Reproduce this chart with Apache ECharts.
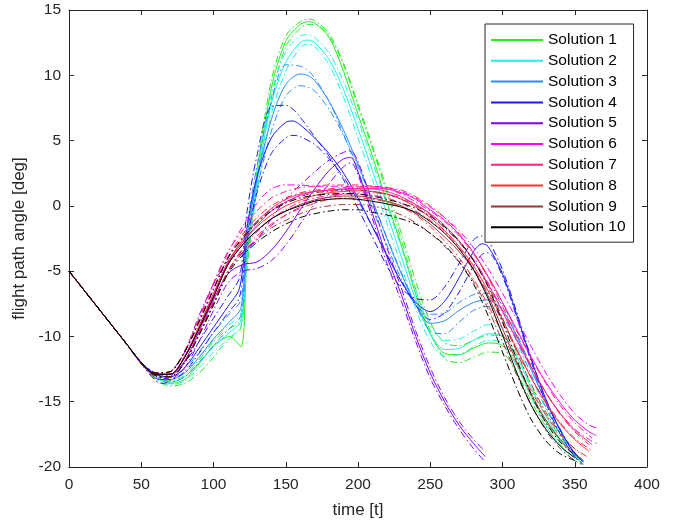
<!DOCTYPE html>
<html><head><meta charset="utf-8">
<script src="https://cdn.jsdelivr.net/npm/echarts@6/dist/echarts.min.js"></script>
<style>html,body{margin:0;padding:0;background:#fff}#c{width:678px;height:527px}</style>
</head><body><div id="c"></div>
<script>
// ---- data ----
const xTicks = [0, 50, 100, 150, 200, 250, 300, 350, 400];
const yTicks = [-20, -15, -10, -5, 0, 5, 10, 15];
const names = ['Solution 1','Solution 2','Solution 3','Solution 4','Solution 5','Solution 6','Solution 7','Solution 8','Solution 9','Solution 10'];
const colors = ['#22ee22','#22eeee','#2a8cff','#1a1aff','#8000ff','#ff00ff','#ff2080','#ff3030','#993535','#000000'];

const t1 = [0,10,20,30,40,50,60,70,80,90,100,105,111,119,123,130,140,150,160,166,170,180,190,200,210,220,230,240,250,260,270,280,290,300,310,320,330,340,350,356];
const s1 = [-5,-6.4,-7.8,-9.2,-10.6,-12.0,-13.1,-13.6,-13.3,-12.1,-10.7,-10.3,-10.0,-10.8,-4.3,2.0,9.0,12.6,13.9,14.1,14.0,12.9,10.3,7.0,3.8,0.3,-3.0,-6.8,-9.8,-11.3,-11.4,-10.9,-10.5,-10.7,-12.2,-14.6,-16.5,-18.0,-19.1,-19.6];
const u1 = [-5,-6.4,-7.8,-9.2,-10.6,-12.0,-13.0,-13.4,-13.0,-11.8,-10.4,-9.9,-9.4,-8.8,-4.0,2.6,9.6,13.0,14.1,14.3,14.2,13.2,10.9,7.8,4.6,1.3,-2.1,-5.8,-8.9,-10.5,-10.7,-10.3,-9.9,-10.0,-11.4,-13.8,-16.0,-17.7,-19.0,-19.5];
const l1 = [-5,-6.4,-7.8,-9.2,-10.6,-12.1,-13.3,-13.8,-13.6,-12.8,-11.6,-10.9,-10.2,-9.3,-5.0,1.5,8.2,12.2,13.6,13.9,13.9,13.0,10.8,7.6,4.4,1.0,-2.6,-6.4,-9.6,-11.7,-12.0,-11.6,-11.2,-11.3,-12.8,-15.0,-16.9,-18.3,-19.3,-19.8];

const t2 = [0,10,20,30,40,50,60,70,80,90,100,110,119,123,130,140,150,160,165,170,180,190,200,210,220,230,240,250,260,270,280,290,300,310,320,330,340,350,355];
const s2 = [-5,-6.4,-7.8,-9.2,-10.6,-12.0,-13.0,-13.5,-13.1,-12.0,-10.8,-9.8,-8.8,-3.5,1.8,7.8,11.0,12.5,12.7,12.5,11.2,8.9,5.9,2.7,-0.6,-3.9,-7.2,-9.8,-11.0,-10.9,-10.3,-9.8,-10.0,-11.6,-14.0,-16.1,-17.9,-19.2,-19.6];
const u2 = [-5,-6.4,-7.8,-9.2,-10.6,-12.0,-12.9,-13.3,-12.8,-11.6,-10.3,-9.2,-8.2,-3.0,2.6,8.6,11.8,13.0,13.1,12.9,11.7,9.5,6.6,3.4,0.1,-3.2,-6.5,-9.1,-10.3,-10.2,-9.6,-9.1,-9.3,-10.8,-13.2,-15.5,-17.5,-18.9,-19.4];
const l2 = [-5,-6.4,-7.8,-9.2,-10.6,-12.1,-13.2,-13.7,-13.4,-12.4,-11.2,-10.2,-9.2,-4.2,1.0,7.0,10.3,12.1,12.4,12.2,10.8,8.3,5.2,2.0,-1.3,-4.6,-7.9,-10.4,-11.5,-11.4,-10.8,-10.3,-10.5,-12.3,-14.7,-16.8,-18.4,-19.5,-19.8];

const t3 = [0,10,20,30,40,50,60,70,80,90,100,110,119,123,130,140,150,160,165,170,180,190,200,210,220,230,240,250,260,270,280,290,300,310,320,330,340,350,356];
const s3 = [-5,-6.4,-7.8,-9.2,-10.6,-12.0,-12.9,-13.3,-12.8,-11.6,-10.2,-9.0,-7.8,-2.5,2.0,6.6,9.3,10.1,10.0,9.6,8.0,5.8,3.2,0.4,-2.5,-5.2,-7.6,-9.0,-8.8,-8.0,-7.4,-7.2,-8.0,-10.0,-12.6,-15.0,-17.2,-19.0,-19.6];
const u3 = [-5,-6.4,-7.8,-9.2,-10.6,-12.0,-12.8,-13.1,-12.5,-11.2,-9.7,-8.4,-7.2,-1.8,3.0,8.0,10.8,10.7,10.4,9.8,8.0,5.5,2.7,-0.2,-3.0,-5.6,-7.6,-8.3,-8.2,-7.4,-6.8,-6.7,-7.6,-9.8,-12.4,-14.9,-17.1,-18.9,-19.5];
const l3 = [-5,-6.4,-7.8,-9.2,-10.6,-12.1,-13.0,-13.5,-13.1,-12.0,-10.7,-9.5,-8.4,-3.2,1.2,5.7,8.4,9.2,9.1,8.8,7.4,5.4,3.0,0.4,-2.4,-5.1,-7.6,-9.6,-9.8,-8.9,-8.0,-7.7,-8.5,-10.4,-13.0,-15.4,-17.5,-19.2,-19.8];

const t4 = [0,10,20,30,40,50,60,70,80,90,100,110,118,123,130,140,150,155,160,170,180,190,200,210,220,230,240,250,260,270,280,286,290,300,310,320,330,340,350,356];
const s4 = [-5,-6.4,-7.8,-9.2,-10.6,-12.0,-12.9,-13.1,-12.4,-10.9,-9.3,-7.7,-6.3,-1.8,2.2,5.2,6.4,6.5,6.2,5.2,4.0,2.5,0.6,-1.6,-3.8,-5.8,-7.4,-8.1,-7.3,-5.5,-3.5,-2.9,-3.1,-5.2,-8.4,-11.8,-14.8,-17.2,-19.0,-19.6];
const u4 = [-5,-6.4,-7.8,-9.2,-10.6,-12.0,-12.8,-12.9,-12.0,-10.4,-8.6,-6.9,-5.5,-0.6,3.8,7.6,7.7,7.4,6.8,5.3,3.8,2.0,-0.2,-2.4,-4.6,-6.3,-7.1,-7.2,-6.2,-4.4,-2.6,-2.3,-2.6,-4.9,-8.2,-11.7,-14.8,-17.2,-18.9,-19.5];
const l4 = [-5,-6.4,-7.8,-9.2,-10.6,-12.1,-13.0,-13.3,-12.7,-11.3,-9.7,-8.2,-7.0,-2.8,1.0,4.0,5.2,5.4,5.3,4.7,3.6,2.2,0.4,-1.6,-3.7,-5.8,-7.6,-8.7,-8.2,-6.6,-4.6,-3.7,-3.6,-5.4,-8.6,-12.0,-15.1,-17.5,-19.2,-19.8];

const t5 = [0,10,20,30,40,50,60,65,70,80,90,100,110,120,130,140,150,160,170,180,190,195,200,210,220,230,240,250,260,270,280,288];
const s5 = [-5,-6.4,-7.8,-9.2,-10.6,-12.1,-13.2,-13.3,-13.1,-11.9,-9.6,-7.2,-5.2,-4.5,-4.3,-3.4,-2.0,-0.3,1.3,2.7,3.6,3.7,2.6,-0.6,-3.9,-6.8,-10.0,-12.8,-15.0,-16.8,-18.2,-19.2];
const u5 = [-5,-6.4,-7.8,-9.2,-10.6,-12.0,-13.0,-13.1,-12.8,-11.2,-8.4,-6.0,-4.2,-3.6,-2.6,-1.0,0.5,1.6,2.6,3.5,4.1,4.2,3.4,0.2,-3.2,-6.3,-9.6,-12.4,-14.7,-16.5,-17.9,-18.8];
const l5 = [-5,-6.4,-7.8,-9.2,-10.6,-12.1,-13.4,-13.6,-13.4,-12.4,-10.4,-8.0,-5.9,-5.0,-4.8,-4.2,-3.0,-1.4,0.2,1.7,3.0,3.3,2.4,-1.0,-4.4,-7.3,-10.4,-13.2,-15.3,-17.1,-18.6,-19.6];

const t6 = [0,10,20,30,40,50,60,70,80,90,100,110,120,130,140,150,160,170,180,190,200,210,220,230,240,250,260,270,280,290,300,310,320,330,340,350,360,365];
const s6 = [-5,-6.4,-7.8,-9.2,-10.6,-12.0,-12.9,-12.9,-11.6,-9.3,-6.8,-4.3,-2.8,-1.5,-0.4,0.3,0.8,1.1,1.2,1.3,1.35,1.35,1.3,1.0,0.5,-0.3,-1.1,-2.2,-3.6,-5.4,-7.4,-9.5,-11.6,-13.5,-15.1,-16.4,-17.3,-17.6];
const u6 = [-5,-6.4,-7.8,-9.2,-10.6,-12.0,-12.8,-12.7,-11.2,-8.7,-6.0,-3.6,-1.6,0.2,1.3,1.6,1.6,1.5,1.5,1.5,1.5,1.5,1.4,1.1,0.6,-0.1,-0.9,-1.9,-3.2,-4.8,-6.7,-8.7,-10.8,-12.8,-14.5,-15.9,-16.8,-17.0];
const l6 = [-5,-6.4,-7.8,-9.2,-10.6,-12.0,-13.0,-13.1,-12.0,-9.8,-7.4,-5.0,-3.6,-2.5,-1.5,-0.7,-0.1,0.4,0.7,0.9,1.0,1.0,0.9,0.6,0.1,-0.7,-1.6,-2.7,-4.1,-5.9,-8.0,-10.2,-12.4,-14.3,-15.9,-17.1,-17.9,-18.2];

const t7 = [0,10,20,30,40,50,60,70,80,90,100,110,120,130,140,150,160,170,180,190,200,210,220,230,240,250,260,270,280,290,300,310,320,330,340,350,360,362];
const s7 = [-5,-6.4,-7.8,-9.2,-10.6,-12.0,-12.9,-12.9,-11.5,-9.2,-6.7,-4.3,-2.6,-1.2,-0.2,0.5,0.9,1.1,1.2,1.25,1.3,1.3,1.1,0.7,0.1,-0.6,-1.5,-2.7,-4.2,-6.0,-8.1,-10.3,-12.4,-14.3,-15.9,-17.2,-18.1,-18.3];
const u7 = [-5,-6.4,-7.8,-9.2,-10.6,-12.0,-12.8,-12.7,-11.1,-8.6,-5.9,-3.5,-1.9,-0.4,0.6,1.1,1.4,1.5,1.6,1.6,1.6,1.5,1.3,0.9,0.3,-0.4,-1.2,-2.3,-3.7,-5.4,-7.4,-9.6,-11.7,-13.6,-15.3,-16.6,-17.6,-17.8];
const l7 = [-5,-6.4,-7.8,-9.2,-10.6,-12.0,-13.0,-13.1,-11.9,-9.7,-7.3,-5.0,-3.3,-2.0,-1.0,-0.3,0.3,0.6,0.8,0.9,0.9,0.8,0.6,0.2,-0.4,-1.1,-2.0,-3.2,-4.8,-6.7,-8.9,-11.1,-13.2,-15.0,-16.6,-17.8,-18.6,-18.8];

const t8 = [0,10,20,30,40,50,60,70,80,90,100,110,120,130,140,150,160,170,180,190,200,210,220,230,240,250,260,270,280,290,300,310,320,330,340,350,360];
const s8 = [-5,-6.4,-7.8,-9.2,-10.6,-12.0,-12.9,-12.9,-11.6,-9.3,-6.9,-4.4,-2.8,-1.6,-0.7,0.0,0.45,0.8,1.0,1.1,1.15,1.1,0.9,0.5,-0.1,-0.9,-1.9,-3.1,-4.6,-6.5,-8.7,-11.0,-13.2,-15.1,-16.7,-17.9,-18.8];
const u8 = [-5,-6.4,-7.8,-9.2,-10.6,-12.0,-12.8,-12.7,-11.2,-8.8,-6.3,-3.9,-2.2,-0.9,0.0,0.6,1.0,1.2,1.3,1.4,1.45,1.45,1.4,1.2,0.7,0.0,-0.9,-2.1,-3.6,-5.5,-7.7,-10.0,-12.3,-14.3,-16.0,-17.3,-18.3];
const l8 = [-5,-6.4,-7.8,-9.2,-10.6,-12.0,-13.0,-13.1,-12.0,-9.8,-7.5,-5.0,-3.4,-2.3,-1.4,-0.7,-0.2,0.2,0.5,0.6,0.6,0.5,0.3,-0.1,-0.7,-1.6,-2.7,-4.0,-5.6,-7.6,-9.8,-12.1,-14.2,-16.0,-17.5,-18.6,-19.3];

const t9 = [0,10,20,30,40,50,60,70,80,90,100,110,120,130,140,150,160,170,180,190,200,210,220,230,240,250,260,270,280,290,300,310,320,330,340,350,355];
const s9 = [-5,-6.4,-7.8,-9.2,-10.6,-12.0,-12.9,-12.9,-11.6,-9.4,-7.0,-4.5,-3.0,-1.9,-1.0,-0.4,0.1,0.45,0.65,0.75,0.75,0.6,0.35,0.0,-0.6,-1.4,-2.4,-3.5,-4.9,-6.9,-9.4,-12.0,-14.4,-16.4,-17.9,-19.0,-19.4];
const u9 = [-5,-6.4,-7.8,-9.2,-10.6,-12.0,-12.8,-12.7,-11.2,-8.9,-6.4,-4.0,-2.4,-1.2,-0.3,0.3,0.7,1.0,1.1,1.2,1.2,1.1,0.9,0.5,0.0,-0.7,-1.7,-2.8,-4.2,-6.1,-8.6,-11.2,-13.7,-15.8,-17.4,-18.6,-19.1];
const l9 = [-5,-6.4,-7.8,-9.2,-10.6,-12.0,-13.0,-13.1,-12.0,-9.9,-7.6,-5.1,-3.6,-2.6,-1.7,-1.1,-0.6,-0.2,0.0,0.1,0.1,0.0,-0.3,-0.7,-1.3,-2.1,-3.1,-4.3,-5.8,-7.9,-10.4,-13.0,-15.3,-17.2,-18.6,-19.5,-19.8];

const t10 = [0,10,20,30,40,50,60,70,80,90,100,110,120,130,140,150,160,170,180,190,200,210,220,230,240,250,260,270,280,290,300,310,320,330,340,350];
const s10 = [-5,-6.4,-7.8,-9.2,-10.6,-12.0,-12.9,-12.9,-11.6,-9.4,-7.0,-4.5,-3.0,-1.9,-1.0,-0.4,0.0,0.35,0.5,0.55,0.5,0.35,0.15,-0.1,-0.5,-1.2,-2.1,-3.3,-4.9,-7.1,-9.9,-12.8,-15.3,-17.1,-18.4,-19.3];
const u10 = [-5,-6.4,-7.8,-9.2,-10.6,-12.0,-12.8,-12.7,-11.2,-8.9,-6.4,-4.0,-2.5,-1.3,-0.4,0.2,0.6,0.8,0.9,0.95,0.9,0.75,0.5,0.2,-0.2,-0.8,-1.6,-2.7,-4.2,-6.2,-8.9,-11.8,-14.5,-16.6,-18.1,-19.1];
const l10 = [-5,-6.4,-7.8,-9.2,-10.6,-12.0,-13.0,-13.1,-12.0,-9.9,-7.6,-5.2,-3.8,-2.8,-2.0,-1.4,-0.9,-0.6,-0.4,-0.3,-0.3,-0.5,-0.7,-1.0,-1.4,-2.1,-3.0,-4.3,-6.0,-8.4,-11.2,-14.0,-16.4,-18.0,-19.0,-19.5];

const sols = [
  [t1,s1,u1,l1],[t2,s2,u2,l2],[t3,s3,u3,l3],[t4,s4,u4,l4],[t5,s5,u5,l5],
  [t6,s6,u6,l6],[t7,s7,u7,l7],[t8,s8,u8,l8],[t9,s9,u9,l9],[t10,s10,u10,l10]
];

// ---- build ----
const FONT = 'Liberation Sans, Arial, Helvetica, sans-serif';
const AX = '#262626';
const series = [];
function pairs(t, v, tag) {
  if (t.length !== v.length) throw new Error('length mismatch ' + tag + ': ' + t.length + ' vs ' + v.length);
  return t.map((x, i) => [x, v[i]]);
}
const DASHDOT = [7, 3, 1.5, 3];
sols.forEach((s, i) => {
  const [t, sol, up, lo] = s;
  const base = {
    type: 'line', showSymbol: false, symbol: 'none', smooth: 0.3,
    silent: true, animation: false, emphasis: { disabled: true }, z: 2 + i
  };
  series.push(Object.assign({}, base, { name: names[i] + ' (upper)', data: pairs(t, up, names[i] + ' u'),
    lineStyle: { color: colors[i], width: 1, type: DASHDOT }, itemStyle: { color: colors[i] } }));
  series.push(Object.assign({}, base, { name: names[i] + ' (lower)', data: pairs(t, lo, names[i] + ' l'),
    lineStyle: { color: colors[i], width: 1, type: DASHDOT }, itemStyle: { color: colors[i] } }));
  series.push(Object.assign({}, base, { name: names[i], data: pairs(t, sol, names[i] + ' s'),
    lineStyle: { color: colors[i], width: 1, type: 'solid' }, itemStyle: { color: colors[i] } }));
});

const axisCommonX = {
  type: 'value', min: xTicks[0], max: xTicks[xTicks.length - 1], interval: xTicks[1] - xTicks[0],
  splitLine: { show: false },
  axisLine: { show: true, onZero: false, lineStyle: { color: AX, width: 1 } },
  axisTick: { show: true, inside: true, length: 5, lineStyle: { color: AX } }
};
const axisCommonY = {
  type: 'value', min: yTicks[0], max: yTicks[yTicks.length - 1], interval: yTicks[1] - yTicks[0],
  splitLine: { show: false },
  axisLine: { show: true, onZero: false, lineStyle: { color: AX, width: 1 } },
  axisTick: { show: true, inside: true, length: 5, lineStyle: { color: AX } }
};

const option = {
  animation: false,
  backgroundColor: '#ffffff',
  grid: { left: 69, right: 31, top: 10, bottom: 60, containLabel: false },
  xAxis: [
    Object.assign({}, axisCommonX, {
      position: 'bottom', name: 'time [t]', nameLocation: 'middle', nameGap: 35,
      nameTextStyle: { fontFamily: FONT, fontSize: 17, color: AX },
      axisLabel: { fontFamily: FONT, fontSize: 15.5, color: AX, margin: 10 }
    }),
    Object.assign({}, axisCommonX, { position: 'top', axisLabel: { show: false } })
  ],
  yAxis: [
    Object.assign({}, axisCommonY, {
      position: 'left', name: 'flight path angle [deg]', nameLocation: 'middle', nameGap: 40, nameRotate: 90,
      nameTextStyle: { fontFamily: FONT, fontSize: 17, color: AX },
      axisLabel: { fontFamily: FONT, fontSize: 15.5, color: AX, margin: 8 }
    }),
    Object.assign({}, axisCommonY, { position: 'right', axisLabel: { show: false } })
  ],
  legend: {
    data: names, orient: 'vertical', left: 485, top: 24,
    icon: 'rect', itemWidth: 52, itemHeight: 2, itemGap: 4.8,
    padding: [8, 8, 7, 6],
    backgroundColor: '#ffffff', borderColor: AX, borderWidth: 1, borderRadius: 0,
    textStyle: { fontFamily: FONT, fontSize: 15.5, color: '#000' },
    selectedMode: false, z: 20
  },
  series: series
};

const chart = echarts.init(document.getElementById('c'), null, { renderer: 'canvas' });
chart.setOption(option);
</script></body></html>
